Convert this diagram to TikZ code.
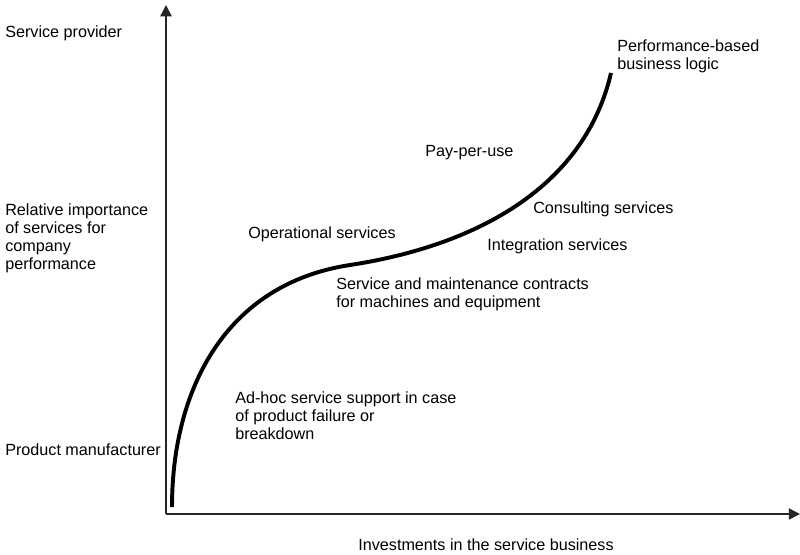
\documentclass[tikz,border=0pt]{standalone}
\usepackage{fontspec}
\setmainfont{Liberation Sans}
\usetikzlibrary{arrows.meta}
\begin{document}
\begin{tikzpicture}[x=0.025cm, y=-0.025cm, font=\fontsize{11.5}{12.8}\selectfont, line join=round, >={Triangle[length=8pt,width=8pt]}]
\tikzset{lbl/.style={anchor=west, align=left, inner sep=0pt}}
\useasboundingbox (0,0) rectangle (800,554);
% axes
\coordinate (O) at (166,514);
\coordinate (ytip) at (166,5);
\coordinate (xtip) at (800,514);
\draw[line width=1pt, black!85, ->] (O)--(ytip);
\draw[line width=1pt, black!85, ->] (O)--(xtip);
% axis texts
\node[lbl] (prov) at (5,33) {Service provider};
\node[lbl] (imp) at (5,238) {Relative importance\\of services for\\company\\performance};
\node[lbl] (manu) at (5,450) {Product manufacturer};
\node[inner sep=0pt] (inv) at (486,545) {Investments in the service business};
% the s-curve
\coordinate (start) at (172,507);
\coordinate (mid) at (350,265);
\coordinate (end) at (611,73);
\draw[line width=2.8pt] (start) .. controls (172,390) and (225,284) .. (mid)
  .. controls (480,245) and (585,185) .. (end);
% stages along the curve
\node[lbl] (perf) at (617,56) {Performance-based\\business logic};
\node[lbl] (ppu) at (425,153) {Pay-per-use};
\node[lbl] (cons) at (533,209) {Consulting services};
\node[lbl] (oper) at (248,234) {Operational services};
\node[lbl] (integ) at (487,246) {Integration services};
\node[lbl] (maint) at (336,294) {Service and maintenance contracts\\for machines and equipment};
\node[lbl] (adhoc) at (235,416) {Ad-hoc service support in case\\of product failure or\\breakdown};
\end{tikzpicture}
\end{document}
